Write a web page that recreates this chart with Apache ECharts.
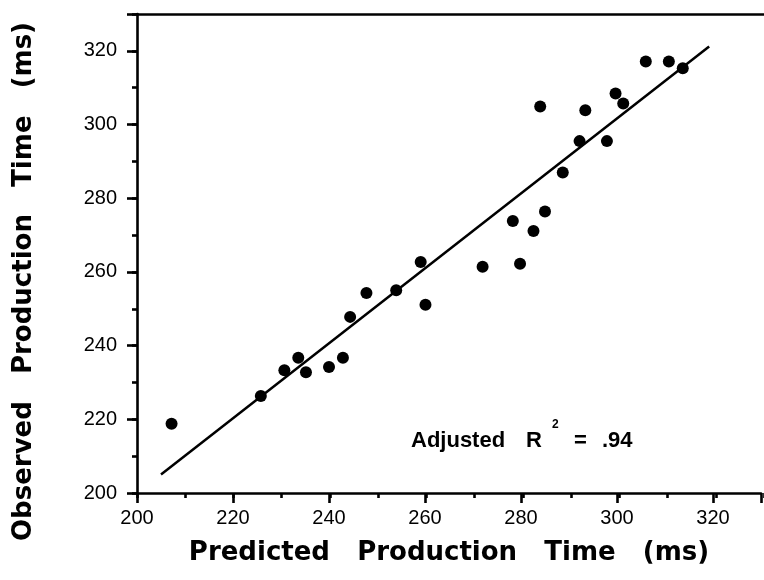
<!DOCTYPE html>
<html><head><meta charset="utf-8">
<script src="https://cdn.jsdelivr.net/npm/echarts@6/dist/echarts.min.js"></script>
<style>html,body{margin:0;padding:0;background:#fff}#c{width:764px;height:580px}</style>
</head><body><div id="c"></div>
<script>
// Predicted vs observed production time (ms)
const predicted = [207.2, 225.8, 230.7, 233.6, 235.2, 240.0, 242.9, 244.4, 247.8, 254.0, 260.1, 259.1, 272.0, 279.8, 278.3, 282.6, 285.0, 284.0, 288.7, 292.2, 297.9, 293.4, 299.7, 301.3, 306.0, 310.8, 313.7];
const observed  = [218.8, 226.3, 233.3, 236.7, 232.8, 234.2, 236.7, 247.8, 254.3, 255.0, 251.1, 262.7, 261.4, 262.2, 273.8, 271.1, 276.4, 304.9, 287.0, 295.5, 295.5, 303.9, 308.4, 305.7, 317.1, 317.1, 315.3];
// Regression line end points
const fitX = [205.0, 319.2];
const fitY = [205.0, 321.2];
// Tick labels
const xTickLabels = [200, 220, 240, 260, 280, 300, 320];
const yTickLabels = [200, 220, 240, 260, 280, 300, 320];
const xTitle = 'Predicted   Production   Time   (ms)';
const yTitle = 'Observed   Production   Time   (ms)';

const FONT = '"Liberation Sans", Arial, Helvetica, sans-serif';
const TITLE_FONT = '"DejaVu Sans", sans-serif';
const BLACK = '#000';
const lineStyle = {color: BLACK, width: 2.6};
const gridBox = {left: 137, top: 14, right: -8, bottom: 87};

const chart = echarts.init(document.getElementById('c'), null, {renderer: 'canvas'});
chart.setOption({
  animation: false,
  backgroundColor: '#fff',
  grid: [Object.assign({}, gridBox), Object.assign({}, gridBox)],
  xAxis: [
    {
      gridIndex: 0, type: 'value', min: 200, max: 330, interval: 20, position: 'bottom',
      axisLine: {onZero: false, lineStyle: lineStyle},
      axisTick: {length: 10, lineStyle: lineStyle},
      axisLabel: {
        margin: 15, fontSize: 20, color: BLACK, fontFamily: FONT,
        formatter: v => xTickLabels.indexOf(v) >= 0 ? String(v) : ''
      },
      splitLine: {show: false},
      name: xTitle, nameLocation: 'middle', nameGap: 47,
      nameTextStyle: {fontSize: 26, fontWeight: 'bold', color: BLACK, fontFamily: TITLE_FONT}
    },
    {
      gridIndex: 1, type: 'value', min: 200, max: 330, interval: 10, position: 'bottom',
      axisLine: {show: false, onZero: false},
      axisTick: {length: 5, lineStyle: lineStyle},
      axisLabel: {show: false}, splitLine: {show: false}
    },
    {
      gridIndex: 1, type: 'value', min: 200, max: 330, position: 'top',
      axisLine: {onZero: false, lineStyle: lineStyle},
      axisTick: {show: false}, axisLabel: {show: false}, splitLine: {show: false}
    }
  ],
  yAxis: [
    {
      gridIndex: 0, type: 'value', min: 200, max: 330, interval: 20, position: 'left',
      axisLine: {onZero: false, lineStyle: lineStyle},
      axisTick: {length: 10, lineStyle: lineStyle},
      axisLabel: {
        margin: 20, fontSize: 20, color: BLACK, fontFamily: FONT,
        formatter: v => yTickLabels.indexOf(v) >= 0 ? String(v) : ''
      },
      splitLine: {show: false},
      name: yTitle, nameLocation: 'middle', nameGap: 100, nameRotate: 90,
      nameTextStyle: {fontSize: 26, fontWeight: 'bold', color: BLACK, fontFamily: TITLE_FONT, padding: [0, 56, 0, 0]}
    },
    {
      gridIndex: 1, type: 'value', min: 200, max: 330, interval: 10, position: 'left',
      axisLine: {show: false, onZero: false},
      axisTick: {length: 5, lineStyle: lineStyle},
      axisLabel: {show: false}, splitLine: {show: false}
    }
  ],
  series: [
    {
      type: 'scatter', xAxisIndex: 0, yAxisIndex: 0,
      data: predicted.map((p, i) => [p, observed[i]]),
      symbol: 'circle', symbolSize: 12,
      itemStyle: {color: BLACK, opacity: 1}
    },
    {
      type: 'line', xAxisIndex: 0, yAxisIndex: 0,
      data: fitX.map((x, i) => [x, fitY[i]]),
      showSymbol: false, symbol: 'none',
      lineStyle: {color: BLACK, width: 2.5}
    }
  ],
  graphic: [
    {type: 'text', x: 411, y: 441, style: {text: 'Adjusted', font: 'bold 22px ' + FONT, fill: BLACK, verticalAlign: 'middle'}},
    {type: 'text', x: 526, y: 441, style: {text: 'R', font: 'bold 22px ' + FONT, fill: BLACK, verticalAlign: 'middle'}},
    {type: 'text', x: 552, y: 425, style: {text: '2', font: 'bold 12px ' + FONT, fill: BLACK, verticalAlign: 'middle'}},
    {type: 'text', x: 574, y: 441, style: {text: '=', font: 'bold 22px ' + FONT, fill: BLACK, verticalAlign: 'middle'}},
    {type: 'text', x: 602, y: 441, style: {text: '.94', font: 'bold 22px ' + FONT, fill: BLACK, verticalAlign: 'middle'}}
  ]
});
</script>
</body></html>
